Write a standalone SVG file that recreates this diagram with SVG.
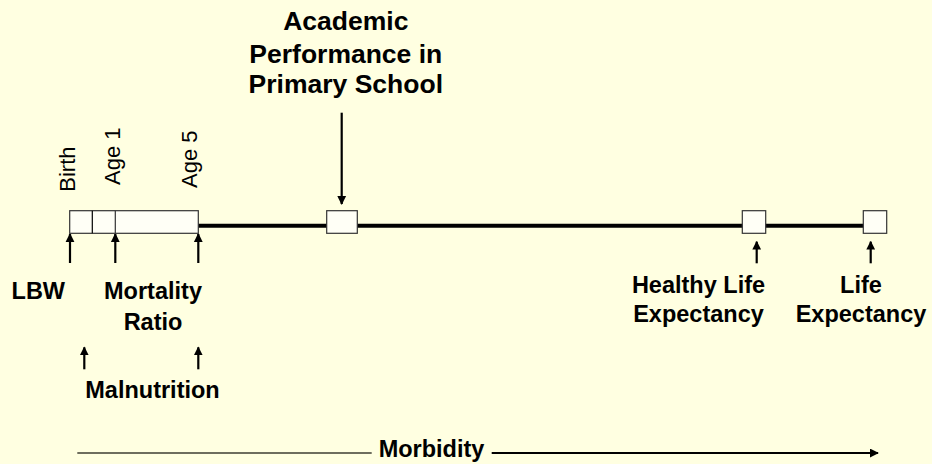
<svg xmlns="http://www.w3.org/2000/svg" width="932" height="464" viewBox="0 0 932 464">
<defs>
<style>
.lbl{font-family:"Liberation Sans",Arial,sans-serif;font-weight:bold;font-size:23.5px;fill:#000;text-anchor:middle}
.big{font-family:"Liberation Sans",Arial,sans-serif;font-weight:bold;font-size:26.5px;fill:#000;text-anchor:middle}
.rot{font-family:"Liberation Sans",Arial,sans-serif;font-size:22px;fill:#000}
.box{fill:#FFFFF6;stroke:#333;stroke-width:1.2}
.arr{stroke:#000;stroke-width:2.2;fill:none;marker-end:url(#ah)}
</style>
<marker id="ah" viewBox="0 0 10 10" refX="9" refY="5" markerWidth="4" markerHeight="4.5" orient="auto" markerUnits="strokeWidth">
<path d="M0,0 L10,5 L0,10 z" fill="#000"/>
</marker>
<marker id="ah2" viewBox="0 0 10 10" refX="9" refY="5" markerWidth="5" markerHeight="5" orient="auto" markerUnits="strokeWidth">
<path d="M0,0 L10,5 L0,10 z" fill="#000"/>
</marker>
</defs>
<rect x="0" y="0" width="932" height="464" fill="#FFFFE1"/>
<g id="connectors">
<line x1="198" y1="225.7" x2="864" y2="225.7" stroke="#000" stroke-width="4"/>
<line class="arr" x1="341.7" y1="112.7" x2="341.7" y2="204"/>
<line class="arr" x1="70" y1="263" x2="70" y2="234"/>
<line class="arr" x1="115.3" y1="263" x2="115.3" y2="234"/>
<line class="arr" x1="198.3" y1="263" x2="198.3" y2="234"/>
<line class="arr" x1="756.7" y1="263.3" x2="756.7" y2="241.7"/>
<line class="arr" x1="870.7" y1="263.3" x2="870.7" y2="241.7"/>
<line class="arr" x1="84.3" y1="369.3" x2="84.3" y2="347.3"/>
<line class="arr" x1="198.3" y1="369.3" x2="198.3" y2="347.3"/>
<line x1="77.3" y1="453" x2="371.7" y2="453" stroke="#6E6E5E" stroke-width="1.8"/>
<line x1="491.7" y1="453" x2="878" y2="453" stroke="#000" stroke-width="1.8" marker-end="url(#ah2)"/>
</g>
<g id="early-life">
<rect class="box" x="69.7" y="210.7" width="128.6" height="22.6"/>
<line x1="92.3" y1="210.7" x2="92.3" y2="233.3" stroke="#000" stroke-width="1.2"/>
<line x1="115.3" y1="210.7" x2="115.3" y2="233.3" stroke="#333" stroke-width="1.2"/>
<text class="rot" transform="translate(75,191.7) rotate(-90)">Birth</text>
<text class="rot" transform="translate(120,185) rotate(-90)">Age 1</text>
<text class="rot" transform="translate(196.7,188) rotate(-90)">Age 5</text>
</g>
<g id="academic">
<rect class="box" x="326.7" y="210.7" width="30.6" height="22.6"/>
<text class="big" x="345.8" y="30">Academic</text>
<text class="big" x="345.8" y="62.7">Performance in</text>
<text class="big" x="345.8" y="93.3">Primary School</text>
</g>
<g id="healthy-life">
<rect class="box" x="742.3" y="210.7" width="23.4" height="22.6"/>
<text class="lbl" x="698.5" y="293.3">Healthy Life</text>
<text class="lbl" x="698.5" y="321.5">Expectancy</text>
</g>
<g id="life">
<rect class="box" x="863.3" y="210.7" width="23.4" height="22.6"/>
<text class="lbl" x="861" y="293.3">Life</text>
<text class="lbl" x="861" y="321.5">Expectancy</text>
</g>
<g id="lbw">
<text class="lbl" x="38.3" y="299.3">LBW</text>
</g>
<g id="mortality">
<text class="lbl" x="153" y="299.3">Mortality</text>
<text class="lbl" x="153" y="330">Ratio</text>
</g>
<g id="malnutrition">
<text class="lbl" x="152.5" y="398.3">Malnutrition</text>
</g>
<g id="morbidity">
<text class="lbl" x="431.5" y="456.5">Morbidity</text>
</g>
</svg>
